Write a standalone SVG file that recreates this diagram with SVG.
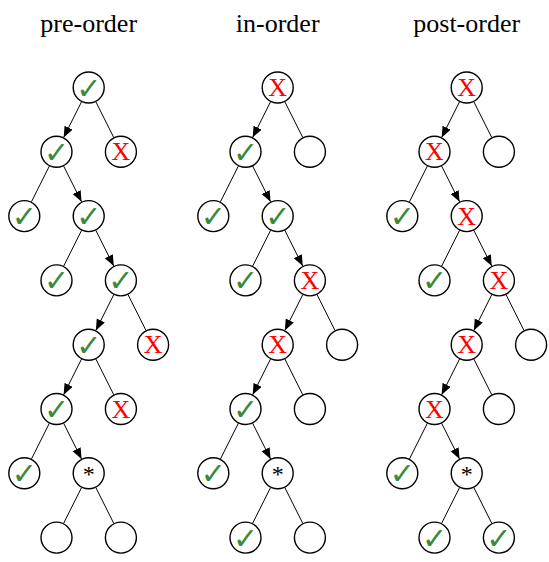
<svg xmlns="http://www.w3.org/2000/svg" xmlns:xlink="http://www.w3.org/1999/xlink" width="549" height="562" viewBox="0 0 549 562">
<style>
.title{font-family:"Liberation Serif","Times New Roman",serif;font-size:26px;fill:#000;text-anchor:middle}
.nd{fill:#fff;stroke:#000;stroke-width:1.4}
.e{fill:none;stroke:#000;stroke-width:1}
.a{marker-end:url(#ah)}
.ok{font-family:"DejaVu Sans",sans-serif;font-size:30px;fill:#3a8a3a;text-anchor:middle}
.no{font-family:"Liberation Serif","Times New Roman",serif;font-size:26px;fill:#ff0000;text-anchor:middle}
.st{font-family:"Liberation Serif","Times New Roman",serif;font-size:24px;fill:#000;text-anchor:middle}
</style>
<defs>
<marker id="ah" markerUnits="userSpaceOnUse" markerWidth="12" markerHeight="10" refX="11" refY="4.5" orient="auto" viewBox="0 0 12 10">
<path d="M0,0 L11,4.5 L0,9 z" fill="#000"/>
</marker>
<g id="edges">
<path class="e a" d="M-7.16,101.81 l-17.88,35.68"/>
<path class="e" d="M7.16,101.81 l17.88,35.68"/>
<path class="e" d="M-39.36,166.11 l-17.88,35.68"/>
<path class="e a" d="M-25.04,166.11 l17.88,35.68"/>
<path class="e" d="M-7.16,230.41 l-17.88,35.68"/>
<path class="e a" d="M7.16,230.41 l17.88,35.68"/>
<path class="e a" d="M25.04,294.71 l-17.88,35.68"/>
<path class="e" d="M39.36,294.71 l17.88,35.68"/>
<path class="e a" d="M-7.16,359.01 l-17.88,35.68"/>
<path class="e" d="M7.16,359.01 l17.88,35.68"/>
<path class="e" d="M-39.36,423.31 l-17.88,35.68"/>
<path class="e a" d="M-25.04,423.31 l17.88,35.68"/>
<path class="e" d="M-7.16,487.61 l-17.88,35.68"/>
<path class="e" d="M7.16,487.61 l17.88,35.68"/>
</g>
</defs>
<rect width="549" height="562" fill="#fff"/>
<g id="titles">
<text class="title" x="88.7" y="32">pre-order</text>
<text class="title" x="277.7" y="32">in-order</text>
<text class="title" x="466.7" y="32">post-order</text>
</g>
<g id="connectors">
<use xlink:href="#edges" href="#edges" transform="translate(88.7,0)"/>
<use xlink:href="#edges" href="#edges" transform="translate(277.7,0)"/>
<use xlink:href="#edges" href="#edges" transform="translate(466.7,0)"/>
</g>
<g id="pre-order" transform="translate(88.7,0)">
<g id="pre-R" transform="translate(0,87.5)"><circle class="nd" r="15.5"/><text class="ok" y="11">✓</text></g>
<g id="pre-A" transform="translate(-32.2,151.8)"><circle class="nd" r="15.5"/><text class="ok" y="11">✓</text></g>
<g id="pre-B" transform="translate(32.2,151.8)"><circle class="nd" r="15.5"/><text class="no" y="8.6">X</text></g>
<g id="pre-C" transform="translate(-64.4,216.1)"><circle class="nd" r="15.5"/><text class="ok" y="11">✓</text></g>
<g id="pre-D" transform="translate(0,216.1)"><circle class="nd" r="15.5"/><text class="ok" y="11">✓</text></g>
<g id="pre-E" transform="translate(-32.2,280.4)"><circle class="nd" r="15.5"/><text class="ok" y="11">✓</text></g>
<g id="pre-F" transform="translate(32.2,280.4)"><circle class="nd" r="15.5"/><text class="ok" y="11">✓</text></g>
<g id="pre-G" transform="translate(0,344.7)"><circle class="nd" r="15.5"/><text class="ok" y="11">✓</text></g>
<g id="pre-H" transform="translate(64.4,344.7)"><circle class="nd" r="15.5"/><text class="no" y="8.6">X</text></g>
<g id="pre-I" transform="translate(-32.2,409)"><circle class="nd" r="15.5"/><text class="ok" y="11">✓</text></g>
<g id="pre-J" transform="translate(32.2,409)"><circle class="nd" r="15.5"/><text class="no" y="8.6">X</text></g>
<g id="pre-K" transform="translate(-64.4,473.3)"><circle class="nd" r="15.5"/><text class="ok" y="11">✓</text></g>
<g id="pre-L" transform="translate(0,473.3)"><circle class="nd" r="15.5"/><text class="st" y="8.7">*</text></g>
<g id="pre-M" transform="translate(-32.2,537.6)"><circle class="nd" r="15.5"/></g>
<g id="pre-N" transform="translate(32.2,537.6)"><circle class="nd" r="15.5"/></g>
</g>
<g id="in-order" transform="translate(277.7,0)">
<g id="in-R" transform="translate(0,87.5)"><circle class="nd" r="15.5"/><text class="no" y="8.6">X</text></g>
<g id="in-A" transform="translate(-32.2,151.8)"><circle class="nd" r="15.5"/><text class="ok" y="11">✓</text></g>
<g id="in-B" transform="translate(32.2,151.8)"><circle class="nd" r="15.5"/></g>
<g id="in-C" transform="translate(-64.4,216.1)"><circle class="nd" r="15.5"/><text class="ok" y="11">✓</text></g>
<g id="in-D" transform="translate(0,216.1)"><circle class="nd" r="15.5"/><text class="ok" y="11">✓</text></g>
<g id="in-E" transform="translate(-32.2,280.4)"><circle class="nd" r="15.5"/><text class="ok" y="11">✓</text></g>
<g id="in-F" transform="translate(32.2,280.4)"><circle class="nd" r="15.5"/><text class="no" y="8.6">X</text></g>
<g id="in-G" transform="translate(0,344.7)"><circle class="nd" r="15.5"/><text class="no" y="8.6">X</text></g>
<g id="in-H" transform="translate(64.4,344.7)"><circle class="nd" r="15.5"/></g>
<g id="in-I" transform="translate(-32.2,409)"><circle class="nd" r="15.5"/><text class="ok" y="11">✓</text></g>
<g id="in-J" transform="translate(32.2,409)"><circle class="nd" r="15.5"/></g>
<g id="in-K" transform="translate(-64.4,473.3)"><circle class="nd" r="15.5"/><text class="ok" y="11">✓</text></g>
<g id="in-L" transform="translate(0,473.3)"><circle class="nd" r="15.5"/><text class="st" y="8.7">*</text></g>
<g id="in-M" transform="translate(-32.2,537.6)"><circle class="nd" r="15.5"/><text class="ok" y="11">✓</text></g>
<g id="in-N" transform="translate(32.2,537.6)"><circle class="nd" r="15.5"/></g>
</g>
<g id="post-order" transform="translate(466.7,0)">
<g id="post-R" transform="translate(0,87.5)"><circle class="nd" r="15.5"/><text class="no" y="8.6">X</text></g>
<g id="post-A" transform="translate(-32.2,151.8)"><circle class="nd" r="15.5"/><text class="no" y="8.6">X</text></g>
<g id="post-B" transform="translate(32.2,151.8)"><circle class="nd" r="15.5"/></g>
<g id="post-C" transform="translate(-64.4,216.1)"><circle class="nd" r="15.5"/><text class="ok" y="11">✓</text></g>
<g id="post-D" transform="translate(0,216.1)"><circle class="nd" r="15.5"/><text class="no" y="8.6">X</text></g>
<g id="post-E" transform="translate(-32.2,280.4)"><circle class="nd" r="15.5"/><text class="ok" y="11">✓</text></g>
<g id="post-F" transform="translate(32.2,280.4)"><circle class="nd" r="15.5"/><text class="no" y="8.6">X</text></g>
<g id="post-G" transform="translate(0,344.7)"><circle class="nd" r="15.5"/><text class="no" y="8.6">X</text></g>
<g id="post-H" transform="translate(64.4,344.7)"><circle class="nd" r="15.5"/></g>
<g id="post-I" transform="translate(-32.2,409)"><circle class="nd" r="15.5"/><text class="no" y="8.6">X</text></g>
<g id="post-J" transform="translate(32.2,409)"><circle class="nd" r="15.5"/></g>
<g id="post-K" transform="translate(-64.4,473.3)"><circle class="nd" r="15.5"/><text class="ok" y="11">✓</text></g>
<g id="post-L" transform="translate(0,473.3)"><circle class="nd" r="15.5"/><text class="st" y="8.7">*</text></g>
<g id="post-M" transform="translate(-32.2,537.6)"><circle class="nd" r="15.5"/><text class="ok" y="11">✓</text></g>
<g id="post-N" transform="translate(32.2,537.6)"><circle class="nd" r="15.5"/><text class="ok" y="11">✓</text></g>
</g>
</svg>
